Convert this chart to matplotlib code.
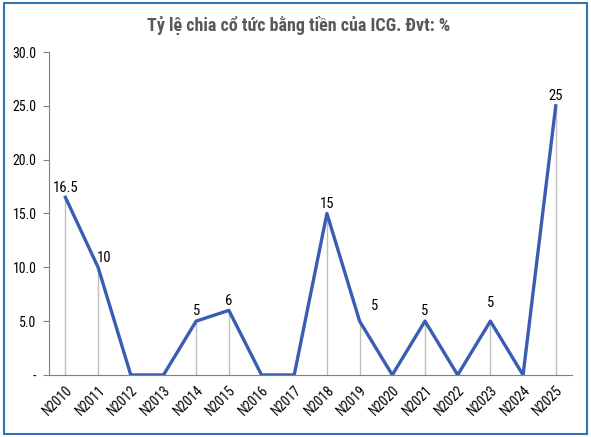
import numpy as np
import matplotlib.pyplot as plt
from matplotlib import font_manager

years = ["N2010", "N2011", "N2012", "N2013", "N2014", "N2015", "N2016", "N2017",
         "N2018", "N2019", "N2020", "N2021", "N2022", "N2023", "N2024", "N2025"]
values = [16.5, 10, 0, 0, 5, 6, 0, 0, 15, 5, 0, 5, 0, 5, 0, 25]
yticks = [0, 5, 10, 15, 20, 25, 30]
ytick_labels = ["-", "5.0", "10.0", "15.0", "20.0", "25.0", "30.0"]

names = {f.name for f in font_manager.fontManager.ttflist}
fam = [f for f in ["Liberation Sans Narrow", "Roboto Condensed", "Roboto"] if f in names] + ["DejaVu Sans"]
plt.rcParams["font.family"] = fam

fig = plt.figure(figsize=(5.91, 4.37), dpi=100)
ax = fig.add_axes([0.083, 0.142, 0.885, 0.739])

x = np.arange(len(years))
ax.vlines(x, 0, values, color="#bfbfbf", linewidth=1, zorder=1)
ax.plot(x, values, color="#3a5db3", linewidth=2.4, zorder=2)

# data labels (skip zeros)
nudges = {1: (4, 2), 9: (11, 6), 13: (0, 8)}
for i, v in enumerate(values):
    if v == 0:
        continue
    dx, dy = nudges.get(i, (0, 2))
    lab = f"{v:g}"
    ax.annotate(lab, (i, v), xytext=(dx, dy), textcoords="offset points",
                ha="center", va="bottom", fontsize=10.5, color="black")

ax.set_xlim(-0.5, len(years) - 0.5)
ax.set_ylim(0, 30)
ax.set_yticks(yticks)
ax.set_yticklabels(ytick_labels, fontsize=10)
ax.set_xticks(x)
ax.set_xticklabels(years, rotation=45, ha="right", rotation_mode="anchor", fontsize=10)
ax.tick_params(axis="x", length=0, pad=6)
ax.tick_params(axis="y", length=4, color="#808080", pad=5)

for s in ["top", "right"]:
    ax.spines[s].set_visible(False)
ax.spines["left"].set_color("#808080")
ax.spines["bottom"].set_color("#808080")

fig.text(0.505, 0.942, "Tỷ lệ chia cổ tức bằng tiền của ICG. Đvt: %", ha="center", va="center",
         fontsize=13, fontweight="bold", color="#595959")

# outer border
fig.patches.append(plt.Rectangle((0.006, 0.008), 0.988, 0.984, transform=fig.transFigure,
                                 fill=False, edgecolor="#2e75b6", linewidth=1.5))

fig.savefig("out.png", dpi=100)
